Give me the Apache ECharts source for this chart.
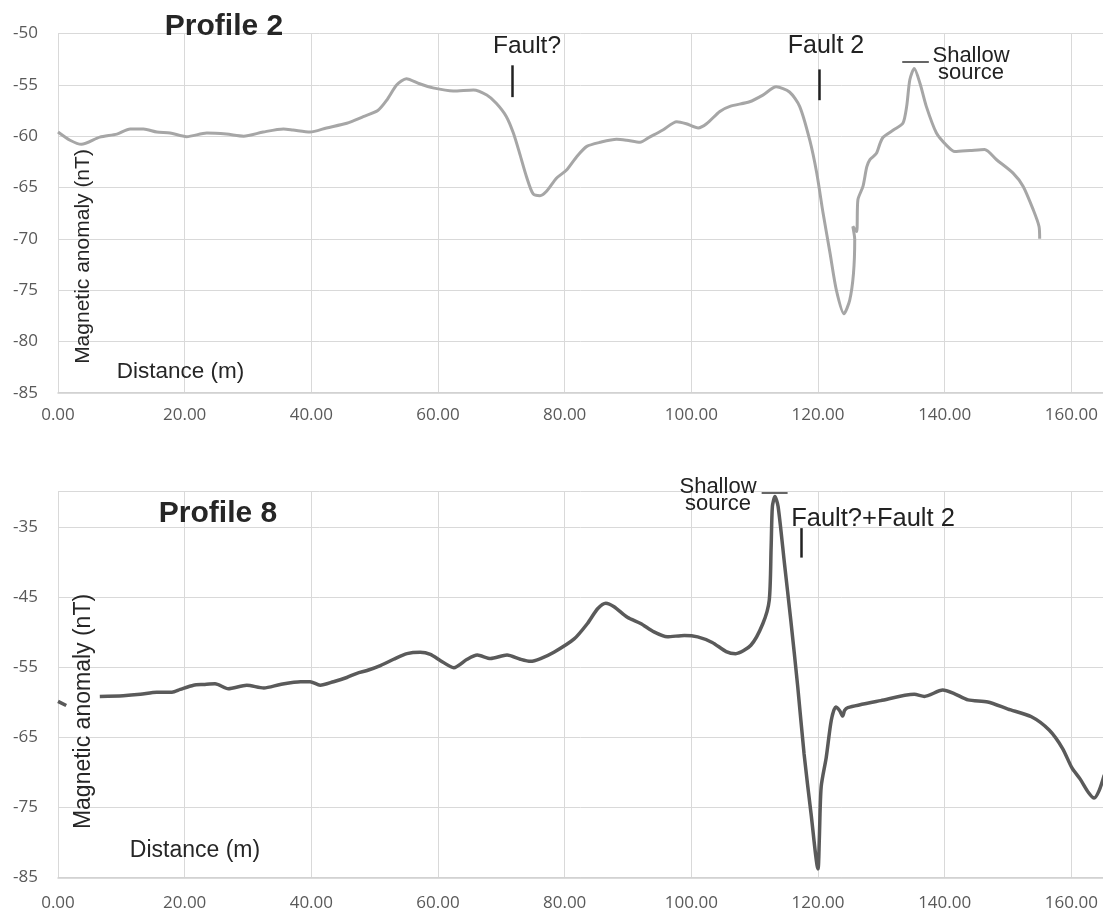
<!DOCTYPE html>
<html>
<head>
<meta charset="utf-8">
<script src="https://cdn.jsdelivr.net/npm/echarts@6/dist/echarts.min.js"></script>
<style>html,body{margin:0;padding:0;background:#fff}#c{width:1103px;height:912px}</style>
</head>
<body>
<div id="c"></div>
<script>
// ---- Profile 2 (top) ----
const p2Dist = [0, 1.9, 3.7, 6.6, 9.3, 11.4, 13.5, 15.6, 17.7, 20.3, 23.5, 26.6, 29.3, 32.4, 35.6, 37.1, 39.8, 42.4, 45.6, 48.2, 50.5, 51.9, 53.5, 55.0, 57.1, 59.2, 62.4, 65.6, 67.7, 69.2, 70.8, 71.9, 72.9, 74.0, 75.0, 76.1, 77.1, 78.7, 80.3, 81.9, 83.5, 85.6, 88.2, 89.8, 91.9, 93.4, 95.5, 97.7, 99.2, 101.1, 102.4, 104.5, 106.1, 109.2, 111.3, 113.4, 115.5, 117.1, 118.7, 119.8, 120.8, 121.9, 122.9, 124.1, 125.0, 125.6, 125.8, 125.5, 126.1, 126.3, 127.1, 127.7, 128.2, 129.2, 129.8, 130.3, 131.9, 133.4, 134.0, 134.5, 135.2, 136.1, 137.1, 138.7, 140.3, 141.6, 144.0, 146.3, 148.2, 150.8, 152.4, 154.0, 154.9, 155.0];
const p2Mag = [-59.6, -60.4, -60.8, -60.1, -59.8, -59.3, -59.3, -59.6, -59.7, -60.05, -59.7, -59.8, -60.0, -59.6, -59.3, -59.4, -59.6, -59.2, -58.75, -58.1, -57.5, -56.5, -55.0, -54.4, -54.9, -55.3, -55.6, -55.5, -56.0, -56.8, -58.1, -59.7, -61.7, -64.0, -65.6, -65.8, -65.4, -64.1, -63.3, -62.0, -61.0, -60.6, -60.3, -60.4, -60.6, -60.1, -59.4, -58.6, -58.8, -59.2, -58.8, -57.6, -57.1, -56.65, -56.0, -55.2, -55.7, -57.1, -60.4, -63.6, -67.5, -71.4, -75.0, -77.3, -76.0, -73.4, -70.1, -68.8, -69.3, -66.2, -64.9, -63.0, -62.3, -61.7, -60.7, -60.1, -59.4, -58.75, -57.1, -54.5, -53.4, -54.85, -57.1, -59.7, -60.9, -61.5, -61.4, -61.3, -62.3, -63.6, -64.9, -67.2, -68.8, -70.0];

// ---- Profile 8 (bottom) ---- ('-' marks a gap in the record)
const p8Dist = [0, 1.3, 4.0, 6.6, 10.3, 13.0, 15.6, 18.0, 19.3, 21.4, 23.0, 24.8, 26.9, 29.8, 32.5, 35.1, 38.3, 39.8, 41.4, 43.5, 45.6, 47.2, 48.8, 50.9, 53.0, 55.1, 57.2, 58.8, 60.4, 62.5, 64.6, 66.2, 68.3, 70.9, 73.0, 74.6, 76.2, 78.3, 81.5, 83.6, 85.2, 86.5, 87.8, 89.9, 92.0, 94.1, 96.2, 98.9, 101.0, 103.3, 105.5, 107.0, 109.4, 111.3, 112.3, 112.6, 112.8, 113.2, 113.7, 114.7, 115.7, 116.8, 117.8, 118.9, 120.0, 120.2, 120.5, 121.3, 122.1, 122.8, 123.4, 123.9, 124.2, 124.7, 129.9, 135.2, 136.8, 139.7, 141.5, 143.7, 146.8, 150.0, 153.7, 156.5, 158.6, 160.1, 161.4, 162.7, 163.6, 164.4, 165.2];
const p8Mag = [-59.9, -60.5, '-', -59.2, -59.1, -58.9, -58.6, -58.6, -58.2, -57.6, -57.5, -57.4, -58.1, -57.6, -58.0, -57.5, -57.1, -57.1, -57.6, -57.1, -56.5, -55.9, -55.5, -54.8, -53.9, -53.1, -52.9, -53.2, -54.1, -55.1, -53.9, -53.3, -53.8, -53.3, -53.9, -54.2, -53.8, -52.9, -51.0, -48.8, -46.7, -45.9, -46.4, -47.9, -48.8, -50.0, -50.7, -50.5, -50.7, -51.5, -52.8, -53.1, -51.9, -48.8, -45.5, -37.9, -32.1, -30.7, -32.1, -40.2, -48.3, -57.8, -67.4, -75.9, -83.8, -79.8, -72.1, -67.9, -62.6, -60.7, -61.2, -62.0, -61.2, -60.8, -59.8, -58.9, -59.2, -58.3, -58.8, -59.7, -60.0, -61.0, -62.1, -64.0, -66.6, -69.4, -71.0, -72.9, -73.7, -72.6, -70.4];

// ---- axis ticks ----
const xTickStep = 20, xMax = 165;
const y2Min = -85, y2Max = -50, y2Step = 5;
const y8Min = -85, y8Max = -30, y8Step = 10;

// ---- annotation marks (data coordinates) ----
const p2Marks = [
  [[71.7, -53.1], [71.7, -56.2]],   // Fault?
  [[120.2, -53.5], [120.2, -56.5]]  // Fault 2
];
const p2Underline = [[133.3, -52.75], [137.5, -52.75]];
const p8Marks = [
  [[117.3, -35.2], [117.3, -39.4]]  // Fault?+Fault 2
];
const p8Underline = [[111.1, -30.1], [115.2, -30.1]];

const zip = (xs, ys) => xs.map((x, i) => [x, ys[i]]);
const seg = (s, w, c) => [{coord: s[0], lineStyle: {width: w, color: c, type: 'solid'}}, {coord: s[1]}];

const labelFont = '"Open Sans", "DejaVu Sans", sans-serif';
const textFont = '"Liberation Sans", Arial, sans-serif';

function xAxis(gi) {
  return {
    type: 'value', gridIndex: gi, min: 0, max: xMax, interval: xTickStep,
    axisLine: {show: true, lineStyle: {color: '#cfcfcf', width: 1.5}},
    axisTick: {show: false},
    axisLabel: {color: '#595959', fontFamily: labelFont, fontSize: 17, margin: gi === 0 ? 14 : 17,
      showMaxLabel: false,
      formatter: v => (v % xTickStep === 0 ? v.toFixed(2) : '')},
    splitLine: {show: true, lineStyle: {color: '#d9d9d9', width: 1}}
  };
}
function yAxis(gi, mn, mx, st) {
  return {
    type: 'value', gridIndex: gi, min: mn, max: mx, interval: st,
    axisLine: {show: false}, axisTick: {show: false},
    axisLabel: {color: '#595959', fontFamily: labelFont, fontSize: 17, margin: 20, showMaxLabel: gi === 0},
    splitLine: {show: true, lineStyle: {color: '#d9d9d9', width: 1}}
  };
}
function txt(x, y, text, font, extra) {
  return {
    type: 'text', x: x, y: y, z: 100,
    style: Object.assign({text: text, font: font, fill: '#262626',
      textAlign: 'center', textVerticalAlign: 'middle', align: 'center', verticalAlign: 'middle'}, extra || {})
  };
}

const chart = echarts.init(document.getElementById('c'), null, {renderer: 'canvas'});
chart.setOption({
  animation: false,
  backgroundColor: '#ffffff',
  grid: [
    {left: 58, right: 0, top: 33.5, height: 359.2},
    {left: 58, right: 0, top: 491.7, height: 385.6}
  ],
  xAxis: [xAxis(0), xAxis(1)],
  yAxis: [yAxis(0, y2Min, y2Max, y2Step), yAxis(1, y8Min, y8Max, y8Step)],
  series: [
    {
      type: 'line', xAxisIndex: 0, yAxisIndex: 0, data: zip(p2Dist, p2Mag),
      showSymbol: false, smooth: 0.25, lineStyle: {color: '#a6a6a6', width: 3},
      markLine: {silent: true, symbol: ['none', 'none'], label: {show: false},
        data: p2Marks.map(m => seg(m, 2.5, '#222')).concat([seg(p2Underline, 1.5, '#333')])}
    },
    {
      type: 'line', xAxisIndex: 1, yAxisIndex: 1, data: zip(p8Dist, p8Mag),
      showSymbol: false, smooth: 0.25, connectNulls: false, lineStyle: {color: '#5a5a5a', width: 3.5},
      markLine: {silent: true, symbol: ['none', 'none'], label: {show: false},
        data: p8Marks.map(m => seg(m, 2.5, '#222')).concat([seg(p8Underline, 1.5, '#333')])}
    }
  ],
  graphic: [
    txt(224, 27, 'Profile 2', 'bold 30px ' + textFont),
    txt(527, 46, 'Fault?', '24.5px ' + textFont, {fill: '#222'}),
    txt(826, 46, 'Fault 2', '25px ' + textFont, {fill: '#222'}),
    txt(971, 64, 'Shallow\nsource', '22px ' + textFont, {fill: '#222', lineHeight: 17}),
    txt(180.5, 372, 'Distance (m)', '22.5px ' + textFont),
    Object.assign(txt(83.5, 256.5, 'Magnetic anomaly (nT)', '21px ' + textFont), {rotation: Math.PI / 2}),

    txt(218, 514, 'Profile 8', 'bold 30px ' + textFont),
    txt(873, 519, 'Fault?+Fault 2', '25.5px ' + textFont, {fill: '#222'}),
    txt(718, 495, 'Shallow\nsource', '22px ' + textFont, {fill: '#222', lineHeight: 17}),
    txt(195, 851, 'Distance (m)', '23px ' + textFont),
    Object.assign(txt(83.5, 711.5, 'Magnetic anomaly (nT)', '23px ' + textFont), {rotation: Math.PI / 2})
  ]
});
</script>
</body>
</html>
